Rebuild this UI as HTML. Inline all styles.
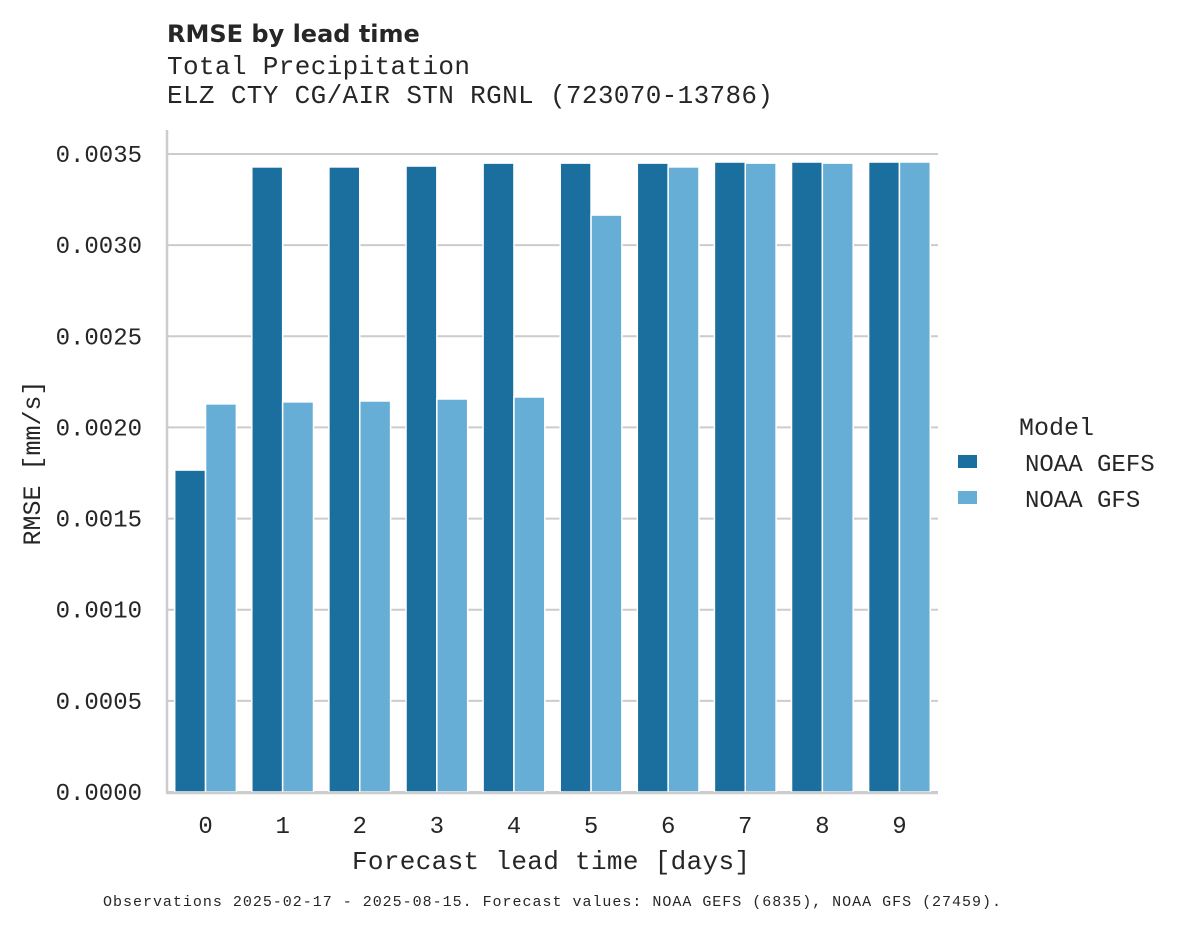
<!DOCTYPE html>
<html><head><meta charset="utf-8"><style>
body{margin:0;background:#fff}
svg text{font-family:"Liberation Mono","DejaVu Sans Mono",monospace;fill:#262626}
</style></head><body>
<svg id="chart" width="1178" height="928" xmlns="http://www.w3.org/2000/svg">
<text x="167" y="42" style="font-family:'DejaVu Sans','Liberation Sans',sans-serif;font-weight:bold;font-size:24px">RMSE by lead time</text>
<text x="167" y="74" font-size="26" textLength="303">Total Precipitation</text>
<text x="167" y="103" font-size="26" textLength="606">ELZ CTY CG/AIR STN RGNL (723070-13786)</text>
<g id="grid"></g>
<g id="bars"></g>
<g id="axes"></g>
<text transform="translate(40,463) rotate(-90)" text-anchor="middle" font-size="25">RMSE [mm/s]</text>
<text x="551" y="869" text-anchor="middle" font-size="26" textLength="398">Forecast lead time [days]</text>
<g>
<text x="1019" y="435" font-size="25">Model</text>
<rect x="958" y="455" width="19" height="13" fill="#1a6f9f"/>
<text x="1025" y="471" font-size="24">NOAA GEFS</text>
<rect x="958" y="491" width="19" height="13" fill="#67aed6"/>
<text x="1025" y="507" font-size="24">NOAA GFS</text>
</g>
<text x="103" y="906" font-size="15" textLength="898">Observations 2025-02-17 - 2025-08-15. Forecast values: NOAA GEFS (6835), NOAA GFS (27459).</text>
</svg>
<script>
const categories=["0","1","2","3","4","5","6","7","8","9"];
const gefs=[0.001766,0.003429,0.003429,0.003434,0.00345,0.00345,0.00345,0.003456,0.003456,0.003456];
const gfs=[0.002129,0.00214,0.002145,0.002156,0.002167,0.003165,0.003429,0.00345,0.00345,0.003456];
const yTicks=[0,0.0005,0.001,0.0015,0.002,0.0025,0.003,0.0035];
const yTickLabels=["0.0000","0.0005","0.0010","0.0015","0.0020","0.0025","0.0030","0.0035"];
const NS="http://www.w3.org/2000/svg";
const x0=167,x1=938,y0=792,yTop=154;
const y=v=>y0-(v/0.0035)*(y0-yTop);
const band=(x1-x0)/categories.length;
const xc=i=>x0+band*(i+0.5);
function mk(t,a,p){const e=document.createElementNS(NS,t);for(const k in a)e.setAttribute(k,a[k]);p.appendChild(e);return e;}
const grid=document.getElementById('grid'),bars=document.getElementById('bars'),axes=document.getElementById('axes');
yTicks.forEach((v,i)=>{
 const l=mk('line',{x1:x0,x2:x1,y1:y(v),y2:y(v),stroke:'#cccccc','stroke-width':2},grid);
 
 
 const t=mk('text',{x:142,y:y(v)+8,'text-anchor':'end','font-size':24},axes);
 t.textContent=yTickLabels[i];
 
 
});
const bw=band*0.4;
categories.forEach((c,i)=>{
 const b1=mk('rect',{x:xc(i)-bw,y:y(gefs[i]),width:bw,height:y0-y(gefs[i]),fill:'#1a6f9f',stroke:'#fff','stroke-width':1.5},bars);
 
 
 const b2=mk('rect',{x:xc(i),y:y(gfs[i]),width:bw,height:y0-y(gfs[i]),fill:'#67aed6',stroke:'#fff','stroke-width':1.5},bars);
 
 
 const t=mk('text',{x:xc(i),y:833,'text-anchor':'middle','font-size':24},axes);
 t.textContent=c;
 
 
});
const ls=mk('line',{x1:x0,x2:x0,y1:130,y2:y0+1,stroke:'#cccccc','stroke-width':2.5},axes);


const bs=mk('line',{x1:x0-1,x2:x1,y1:y0+1,y2:y0+1,stroke:'#cccccc','stroke-width':2.5},axes);


</script>
</body></html>
